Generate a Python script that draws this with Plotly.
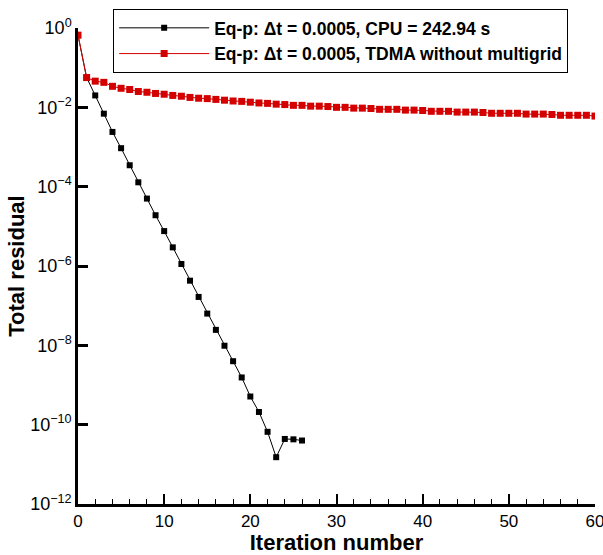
import plotly.graph_objects as go

# Black series: multigrid (log10 of total residual), iterations 0..26
black_iter = list(range(0, 27))
black_log = [-0.18, -1.25, -1.70, -2.16, -2.62, -3.03, -3.46, -3.89, -4.30, -4.72,
             -5.12, -5.53, -5.95, -6.37, -6.78, -7.20, -7.61, -8.01, -8.40, -8.81,
             -9.29, -9.68, -10.18, -10.82, -10.36, -10.37, -10.40]

# Red series: TDMA without multigrid, iterations 0..60
red_iter = list(range(0, 61))
red_log = [-0.18, -1.25, -1.34, -1.37, -1.47, -1.52, -1.55, -1.60, -1.62, -1.65,
           -1.67, -1.70, -1.72, -1.75, -1.77, -1.78, -1.80, -1.82, -1.84, -1.85,
           -1.87, -1.89, -1.90, -1.92, -1.93, -1.95, -1.95, -1.97, -1.97, -1.98,
           -2.00, -2.00, -2.02, -2.02, -2.03, -2.05, -2.05, -2.05, -2.07, -2.07,
           -2.08, -2.10, -2.10, -2.10, -2.12, -2.12, -2.12, -2.13, -2.15, -2.15,
           -2.15, -2.15, -2.17, -2.17, -2.17, -2.18, -2.20, -2.20, -2.20, -2.20, -2.22]

black_vals = [10 ** v for v in black_log]
red_vals = [10 ** v for v in red_log]

ytick_exp = [0, -2, -4, -6, -8, -10, -12]
ytick_vals = [10.0 ** e for e in ytick_exp]
ytick_text = ["10<sup>%s</sup>" % (str(e).replace("-", "\u2212")) for e in ytick_exp]

xtick_vals = [0, 10, 20, 30, 40, 50, 60]

legend_black = "Eq-p: \u0394t = 0.0005, CPU = 242.94 s"
legend_red = "Eq-p: \u0394t = 0.0005, TDMA without multigrid"

fig = go.Figure()
fig.add_trace(go.Scatter(
    x=black_iter, y=black_vals, mode="lines+markers", name=legend_black,
    line=dict(color="black", width=1),
    marker=dict(symbol="square", size=6, color="black"),
))
fig.add_trace(go.Scatter(
    x=red_iter, y=red_vals, mode="lines+markers", name=legend_red,
    line=dict(color="#d40000", width=1),
    marker=dict(symbol="square", size=7, color="#d40000"),
))

font_family = "Liberation Sans, Arial, sans-serif"

fig.update_layout(
    width=603, height=555,
    margin=dict(l=78, r=8, t=28, b=51, autoexpand=False),
    paper_bgcolor="white", plot_bgcolor="white",
    font=dict(family=font_family, color="black", size=17),
    showlegend=True,
    legend=dict(
        x=0.068, y=1.04, xanchor="left", yanchor="top",
        bordercolor="black", borderwidth=1, bgcolor="white",
        font=dict(family=font_family, size=17.5, color="black", weight="bold"),
        itemwidth=90, tracegroupgap=0,
    ),
    xaxis=dict(
        range=[0, 60], tickvals=xtick_vals,
        showgrid=False, zeroline=False,
        showline=True, linecolor="black", linewidth=2.5,
        ticks="inside", ticklen=10, tickwidth=2, tickcolor="black",
        minor=dict(ticks="inside", ticklen=5, tickwidth=1, dtick=2, tickcolor="black", showgrid=False),
        tickfont=dict(size=17),
        ticklabeloverflow="allow",
        title=dict(text="Iteration number", font=dict(size=22, weight="bold"), standoff=10),
    ),
    yaxis=dict(
        type="log", range=[-12, 0],
        tickvals=ytick_vals, ticktext=ytick_text,
        showgrid=False, zeroline=False,
        showline=True, linecolor="black", linewidth=2.5,
        ticks="inside", ticklen=10, tickwidth=2.5, tickcolor="black",
        tickfont=dict(size=18),
        title=dict(text="Total residual", font=dict(size=22, weight="bold"), standoff=0),
    ),
)

fig.write_html("out.html")
